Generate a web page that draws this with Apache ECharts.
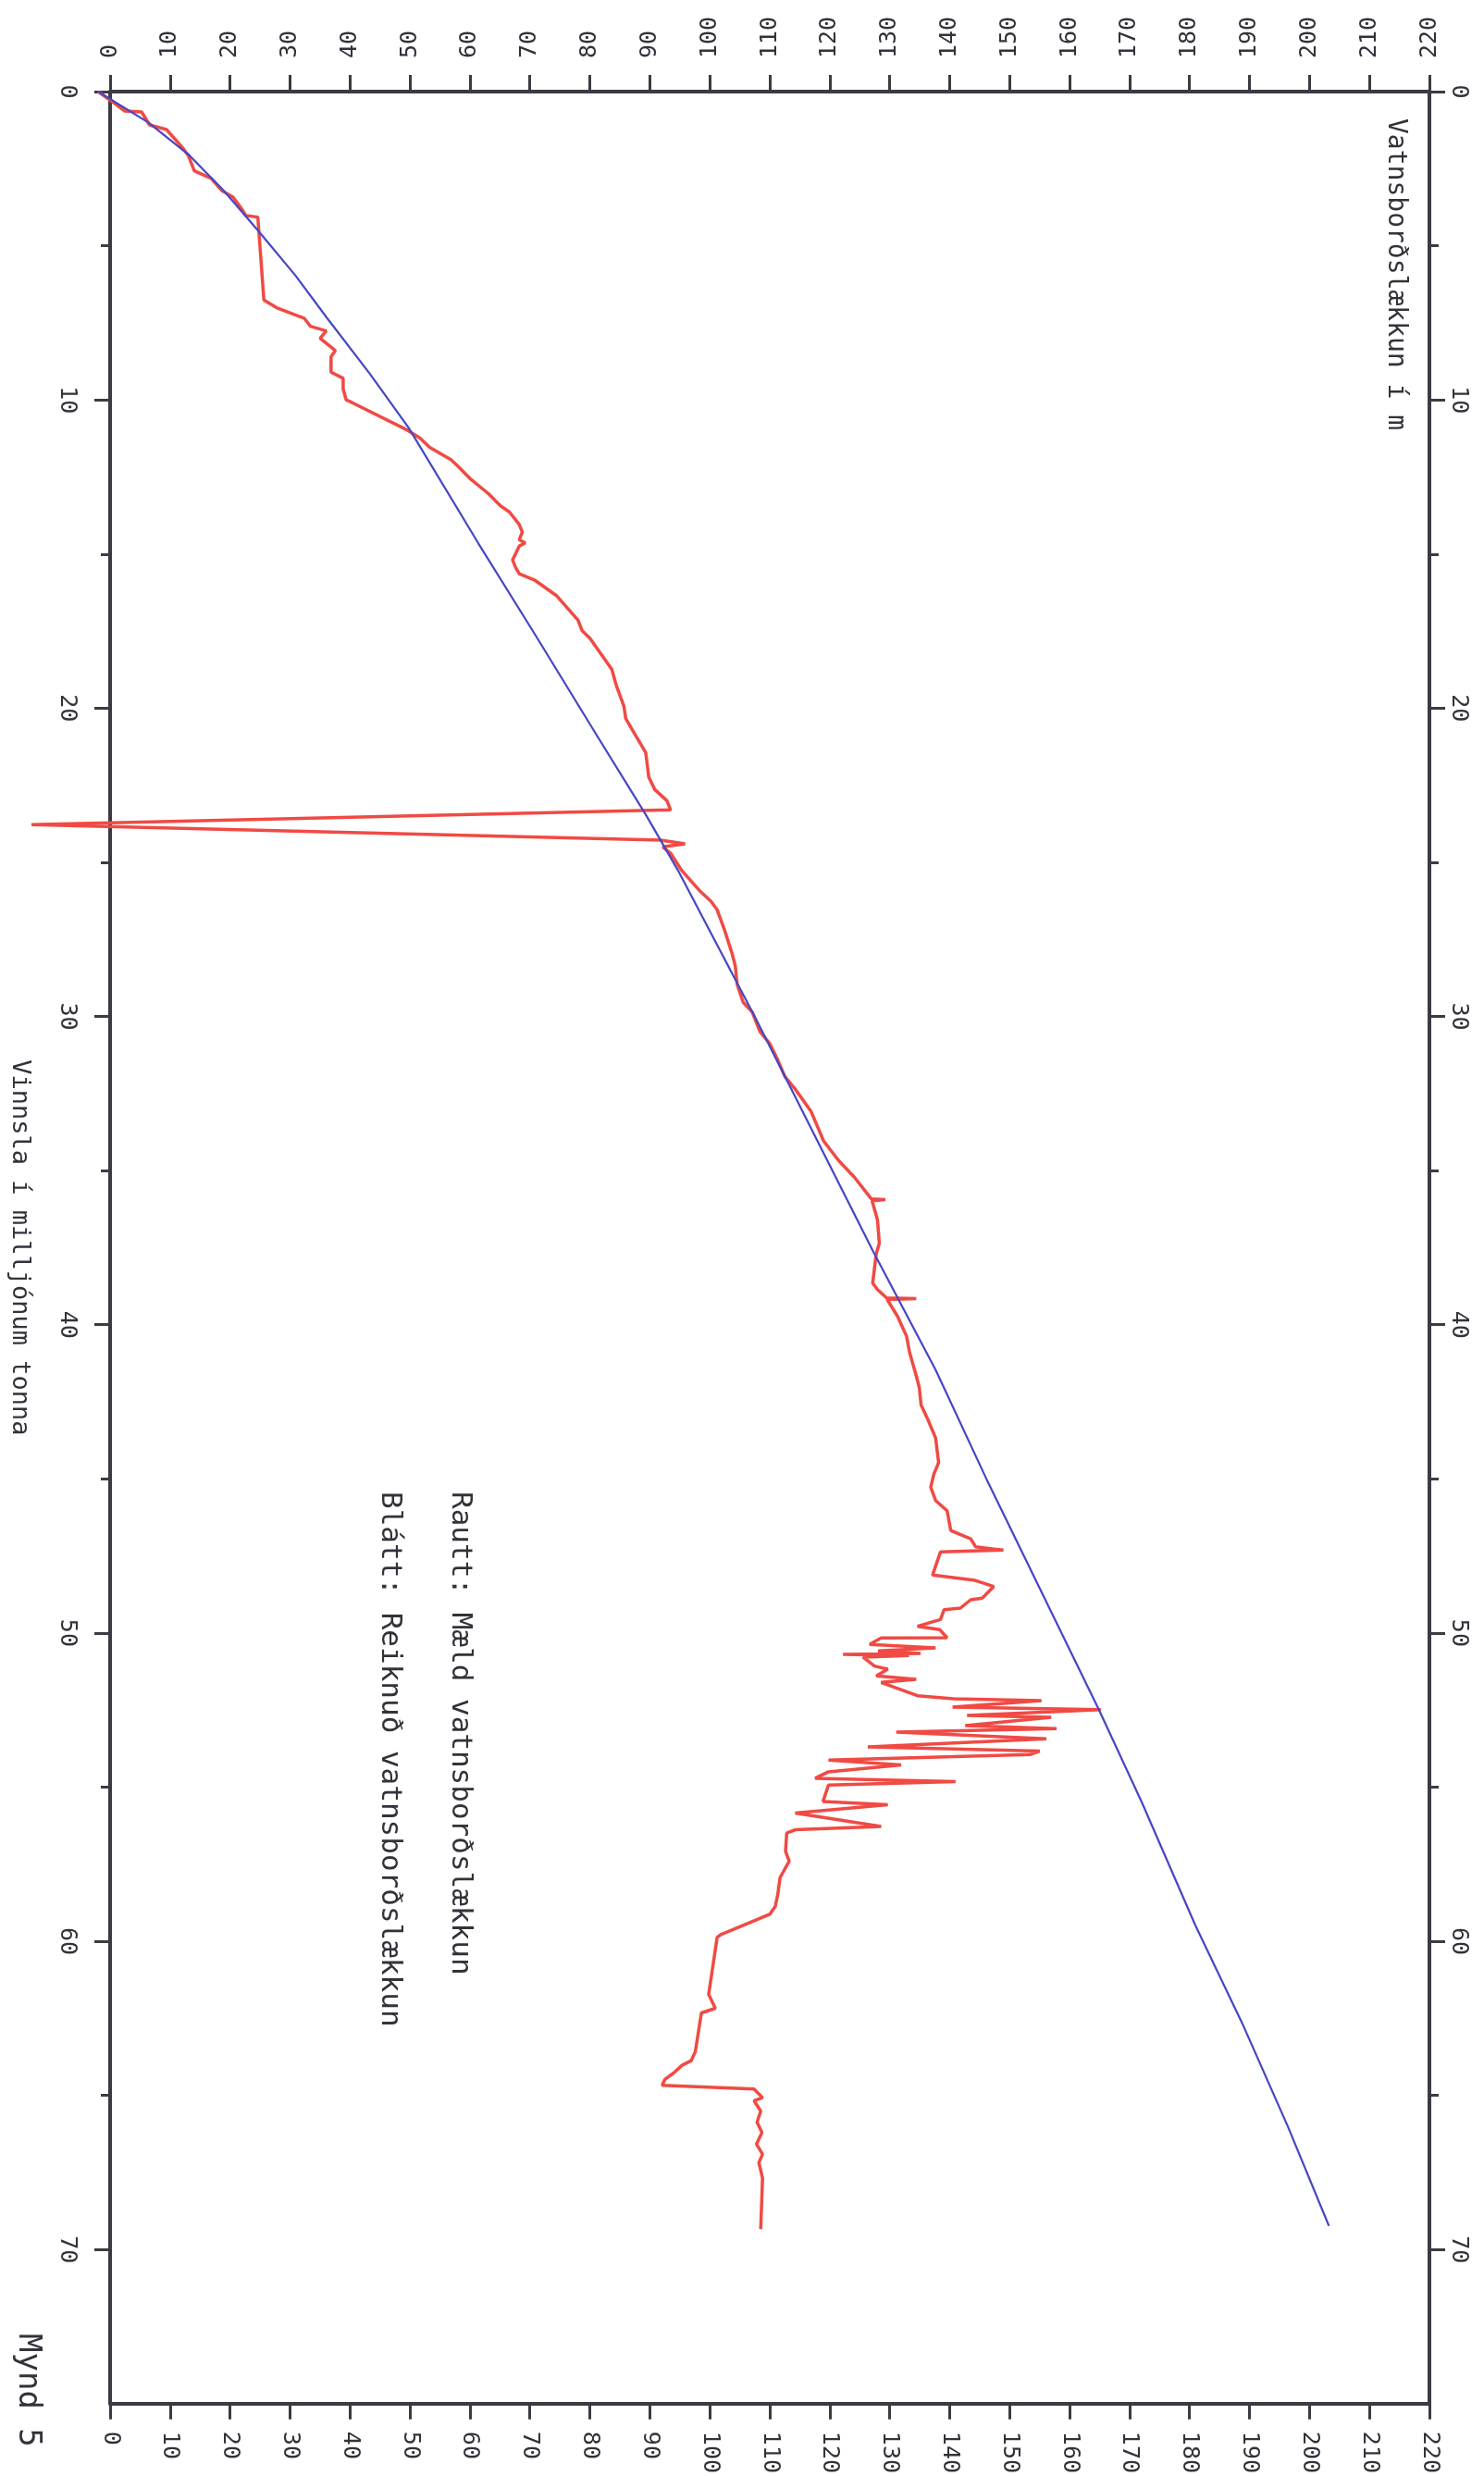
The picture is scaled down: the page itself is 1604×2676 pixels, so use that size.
<!DOCTYPE html>
<html>
<head>
<meta charset="utf-8">
<script src="https://cdn.jsdelivr.net/npm/echarts@6/dist/echarts.min.js"></script>
<style>
html,body{margin:0;padding:0;background:#ffffff;}
#chart{width:1604px;height:2676px;}
</style>
</head>
<body>
<div id="chart"></div>
<script>
// ---- data (drawdown in m vs production in million tonnes) ----
const drawdownTicks = [0,10,20,30,40,50,60,70,80,90,100,110,120,130,140,150,160,170,180,190,200,210,220];
const productionTicks = [0,10,20,30,40,50,60,70];
const productionMinorTicks = [5,15,25,35,45,55,65];

// measured (red): production (x in original) and drawdown
const measuredProduction = [0,0.35,0.63,0.66,1.08,1.23,1.78,2.07,2.57,2.82,3.22,3.42,3.82,4.02,4.07,6.76,7.01,7.36,7.61,7.76,8.0,8.4,8.6,9.1,9.3,9.65,10.0,10.09,10.99,11.24,11.54,11.94,12.14,12.54,13.04,13.44,13.64,14.04,14.29,14.54,14.64,14.74,15.19,15.44,15.64,15.84,16.34,17.14,17.49,17.74,18.74,19.24,19.94,20.34,20.74,21.44,22.24,22.64,23.0,23.3,23.78,24.28,24.4,24.5,24.7,25.25,25.94,26.27,26.54,27.18,27.98,28.36,28.95,29.54,29.86,30.5,30.88,31.36,31.95,32.38,33.07,34.04,34.68,35.22,35.92,35.94,35.98,36.6,37.36,37.69,38.65,38.86,39.13,39.15,39.18,39.72,40.37,40.9,41.65,42.03,42.6,43.02,43.67,44.47,44.85,45.27,45.7,46.03,46.67,46.94,47.2,47.31,47.37,48.12,48.28,48.49,48.87,48.92,49.19,49.24,49.56,49.78,49.89,50.15,50.16,50.37,50.48,50.58,50.66,50.69,50.73,50.78,51.07,51.17,51.39,51.5,51.6,52.03,52.13,52.19,52.4,52.48,52.67,52.73,53.0,53.1,53.21,53.43,53.69,53.83,53.94,54.12,54.28,54.5,54.71,54.82,54.93,55.46,55.57,55.84,56.27,56.38,56.49,57.07,57.4,57.93,58.5,58.87,59.12,59.77,59.87,61.72,62.17,62.32,63.07,63.57,63.87,64.02,64.27,64.47,64.67,64.79,65.07,65.17,65.5,65.87,66.2,66.58,66.9,67.18,67.68,69.33];
const measuredDrawdown = [0,2.5,4.4,7.2,8.5,11.3,13.8,14.9,15.9,18.7,20.5,22.3,23.8,24.4,26.4,27.4,29.5,34.1,35.1,37.7,36.7,39.2,38.5,38.5,40.5,40.5,41.0,42.0,51.2,53.2,54.8,58.3,59.4,61.4,64.5,66.5,68.0,69.6,70.1,69.6,70.6,69.6,68.5,69.0,69.6,72.1,75.7,79.3,80.0,81.3,84.9,85.6,86.9,87.2,88.4,90.5,91.0,92.0,94.0,94.6,-11,93.0,97.0,93.3,94.6,96.4,99.5,101.3,102.3,103.5,104.8,105.3,105.6,106.6,108.1,109.4,111.0,112.2,113.5,115.3,117.8,119.9,122.4,125.0,127.8,130.1,127.9,128.8,129.1,128.6,128.0,128.8,130.3,135.2,130.4,132.1,133.6,134.1,135.2,135.7,136.0,137.0,138.4,138.9,138.1,137.6,138.4,140.3,140.9,144.2,145.0,149.6,139.2,137.9,144.7,148.0,146.1,144.2,142.5,139.8,139.2,135.4,139.1,140.3,129.4,127.5,138.4,128.9,135.9,123.1,134.0,126.4,128.3,130.5,128.6,135.2,129.4,135.4,141.4,155.9,141.2,165.7,143.6,157.5,143.3,158.4,131.9,156.7,127.2,155.6,154.0,120.7,132.7,120.7,118.5,141.7,120.7,119.8,130.5,115.2,129.4,115.2,113.8,113.6,114.2,112.7,112.3,111.9,111.0,103.0,102.3,100.9,102.0,99.7,99.1,98.7,98.0,96.5,95.1,93.7,93.2,108.4,109.8,108.4,109.5,108.9,109.7,108.8,109.8,109.2,109.8,109.5];

// calculated (blue)
const calculatedProduction = [0,1.0,2.07,3.22,4.57,5.96,7.36,9.15,10.9,14.64,17.64,20.94,23.45,25.25,30.0,37.63,41.46,45.0,52.49,55.5,59.47,62.67,66.0,69.23];
const calculatedDrawdown = [0,8.3,15.1,20.8,26.7,32.6,37.9,44.9,51.3,62.8,72.3,82.6,90.5,95.8,108.5,128.1,138.4,146.8,165.4,172.5,181.3,189.1,196.6,203.4];

const texts = {
  xName: 'Vinnsla í milljónum tonna',
  yName: 'Vatnsborðslækkun í m',
  red: 'Rautt: Mæld vatnsborðslækkun',
  blue: 'Blátt: Reiknuð vatnsborðslækkun',
  fig: 'Mynd 5'
};

// ---- build ----
const measured = measuredProduction.map((v, i) => [measuredDrawdown[i], v]);
const calculated = calculatedProduction.map((v, i) => [calculatedDrawdown[i], v]);

const axisColor = '#3d3a44';
const textColor = '#33323a';
const mono = 'DejaVu Sans Mono';
const lineStyle = {color: axisColor, width: 4};
const labelBase = {rotate: -90, color: textColor, fontFamily: mono, fontSize: 25};

const G = {left: 106, right: 59, top: 99, bottom: 78};
const ddMin = 0, ddMax = 220, ddPlotMin = -15;
const plotW = 1604 - G.left - G.right;
const extLeft = G.left - (ddMin - ddPlotMin) * plotW / (ddMax - ddMin);

function xAx(pos, margin, len) {
  return {
    type: 'value', gridIndex: 0, position: pos, min: ddMin, max: ddMax, interval: 10,
    axisLine: {show: true, onZero: false, lineStyle},
    axisTick: {show: true, length: len, lineStyle: {color: axisColor, width: 3}},
    axisLabel: Object.assign({margin}, labelBase),
    splitLine: {show: false}
  };
}
function yAx(pos, major, extra) {
  const base = {
    type: 'value', gridIndex: 0, position: pos, inverse: true, min: 0, max: 75,
    splitLine: {show: false}
  };
  if (major) {
    return Object.assign(base, {
      axisLine: {show: true, onZero: false, lineStyle},
      axisTick: {show: true, length: 17, customValues: productionTicks, lineStyle: {color: axisColor, width: 3}},
      axisLabel: Object.assign({margin: pos === 'left' ? 34 : 19, customValues: productionTicks}, labelBase)
    }, extra || {});
  }
  return Object.assign(base, {
    axisLine: {show: false, onZero: false},
    axisTick: {show: true, length: 10, customValues: productionMinorTicks, lineStyle: {color: axisColor, width: 3}},
    axisLabel: {show: false}
  });
}

const chart = echarts.init(document.getElementById('chart'), null, {renderer: 'canvas'});
chart.setOption({
  backgroundColor: '#ffffff',
  animation: false,
  grid: [
    {left: G.left, right: G.right, top: G.top, bottom: G.bottom, containLabel: false},
    // same scale, extended to the left so the measured spike below zero shows
    {left: extLeft, right: G.right, top: G.top, bottom: G.bottom, containLabel: false, show: false}
  ],
  xAxis: [
    xAx('top', 36, 18),
    xAx('bottom', 30, 17),
    {type: 'value', gridIndex: 1, min: ddPlotMin, max: ddMax, show: false, splitLine: {show: false}}
  ],
  yAxis: [
    yAx('left', true, {
      name: texts.xName, nameLocation: 'middle', nameRotate: -90, nameGap: 84,
      nameTextStyle: {color: textColor, fontFamily: mono, fontSize: 27}
    }),
    yAx('right', true),
    yAx('left', false),
    yAx('right', false),
    {type: 'value', gridIndex: 1, inverse: true, min: 0, max: 75, show: false, splitLine: {show: false}}
  ],
  series: [
    {
      name: 'Mæld', type: 'line', xAxisIndex: 2, yAxisIndex: 4,
      data: measured, showSymbol: false, symbol: 'none', clip: false,
      lineStyle: {color: '#f04a44', width: 3.5}, z: 3
    },
    {
      name: 'Reiknuð', type: 'line', xAxisIndex: 2, yAxisIndex: 4,
      data: calculated, showSymbol: false, symbol: 'none', clip: false,
      lineStyle: {color: '#4646c4', width: 2.2}, z: 4
    }
  ],
  graphic: [
    {type: 'text', x: 1508, y: 128, rotation: -Math.PI / 2,
     style: {text: texts.yName, fill: textColor, font: '28px "DejaVu Sans Mono"', align: 'left', verticalAlign: 'middle'}},
    {type: 'text', x: 497, y: 1612, rotation: -Math.PI / 2,
     style: {text: texts.red, fill: textColor, font: '31px "DejaVu Sans Mono"', align: 'left', verticalAlign: 'middle'}},
    {type: 'text', x: 421, y: 1612, rotation: -Math.PI / 2,
     style: {text: texts.blue, fill: textColor, font: '31px "DejaVu Sans Mono"', align: 'left', verticalAlign: 'middle'}},
    {type: 'text', x: 30, y: 2522, rotation: -Math.PI / 2,
     style: {text: texts.fig, fill: textColor, font: '34px "DejaVu Sans Mono"', align: 'left', verticalAlign: 'middle'}}
  ]
});
</script>
</body>
</html>
